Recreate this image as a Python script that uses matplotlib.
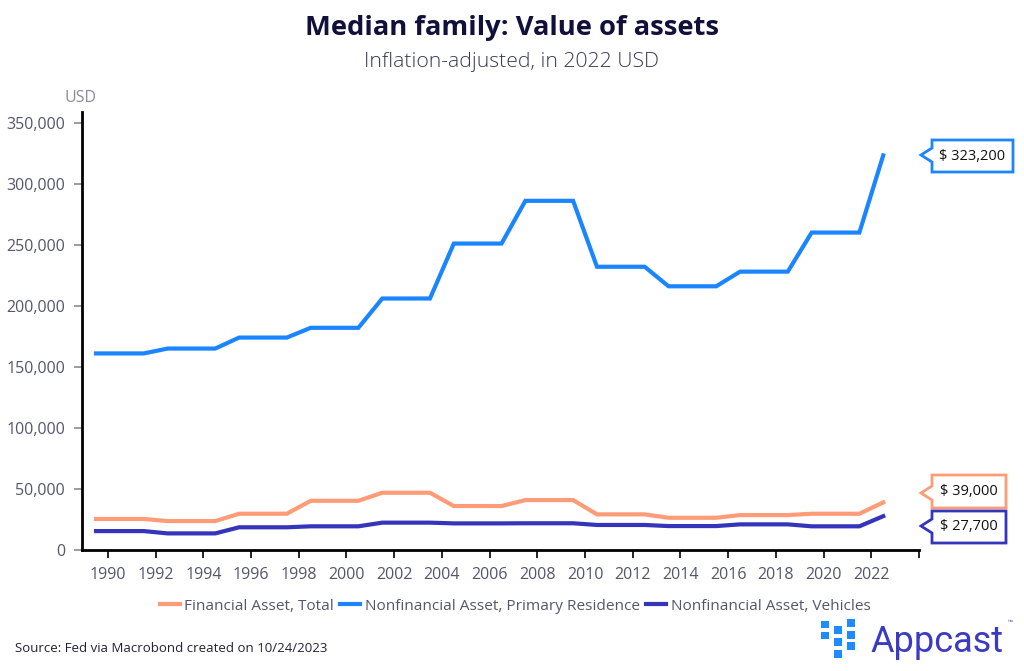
import numpy as np
import matplotlib
matplotlib.use("Agg")
import matplotlib.pyplot as plt
from matplotlib.patches import Polygon, Rectangle

plt.rcParams['font.family'] = ['Open Sans', 'DejaVu Sans']

# ---- data (survey years, values in 2022 USD) ----
survey_years = [1989, 1992, 1995, 1998, 2001, 2004, 2007, 2010, 2013, 2016, 2019, 2022]
financial_total = [25400, 23700, 29700, 40300, 46900, 36000, 40900, 29200, 26400, 28600, 29700, 39000]
primary_residence = [161000, 165000, 174000, 182000, 206000, 251000, 286000, 232000, 216000, 228000, 260000, 323200]
vehicles = [15500, 13600, 18600, 19400, 22400, 21800, 21900, 20500, 19600, 21000, 19400, 27700]

series_names = ["Financial Asset, Total", "Nonfinancial Asset, Primary Residence",
                "Nonfinancial Asset, Vehicles"]
colors = ["#FF9C78", "#1A85FF", "#3535BC"]
labels_end = ["$ 39,000", "$ 323,200", "$ 27,700"]

xticks = list(range(1990, 2023, 2))

# each survey value holds for the survey year and the two following years (last: one year)
def annual(vals):
    yrs, out = [], []
    for i, (y, v) in enumerate(zip(survey_years, vals)):
        span = 3 if i < len(survey_years) - 1 else 1
        for k in range(span):
            yrs.append(y + k + 0.5)
            out.append(v)
    return np.array(yrs), np.array(out)

W, H = 1024, 671
fig = plt.figure(figsize=(W / 100, H / 100), dpi=100)
ax = fig.add_axes([81.7 / W, (H - 550) / H, (919 - 81.7) / W, (550 - 111.7) / H])

for name, vals, c in zip(series_names, [financial_total, primary_residence, vehicles], colors):
    x, y = annual(vals)
    ax.plot(x, y, color=c, lw=3, label=name, solid_joinstyle='miter')

ax.set_xlim(1988.9, 2024)
ax.set_ylim(0, 359000)
ax.set_xticks(xticks + [2024])
ax.set_xticklabels([str(t) for t in xticks] + [""])
ax.set_yticks(range(0, 350001, 50000))
ax.set_yticklabels([f"{v:,}" for v in range(0, 350001, 50000)])

tick_col = "#55556E"
ax.tick_params(axis='x', colors='black', labelcolor=tick_col, labelsize=11.5, length=6, width=1.2, pad=6)
ax.tick_params(axis='y', colors='#8A8A9A', labelcolor=tick_col, labelsize=11.5, length=6, width=1.2, pad=6)
for s in ['top', 'right']:
    ax.spines[s].set_visible(False)
ax.spines['left'].set_linewidth(2)
ax.spines['bottom'].set_linewidth(2)
ax.spines['left'].set_color('black')
ax.spines['bottom'].set_color('black')

# titles
fig.text(512 / W, (H - 28) / H, "Median family: Value of assets", ha='center', va='center',
         fontsize=19.7, fontweight='bold', color='#10103A')
fig.text(512 / W, (H - 62) / H, "Inflation-adjusted, in 2022 USD", ha='center', va='center',
         fontsize=15.2, fontweight='light', color='#3A3A55')
fig.text(80 / W, (H - 98) / H, "USD", ha='center', va='center', fontsize=11.5, color='#8A8A9A')

# legend
leg = fig.legend(loc='center', bbox_to_anchor=(515 / W, (H - 606) / H), ncol=3, frameon=False,
                 fontsize=11.1, handlelength=1.3, handletextpad=0.3, columnspacing=0.4)
for t in leg.get_texts():
    t.set_color(tick_col)

fig.text(15 / W, (H - 648) / H, "Source: Fed via Macrobond created on 10/24/2023", ha='left', va='center',
         fontsize=9.5, color='#222233')

# end-value callouts (pixel coordinates)
def callout(x0, x1, ytop, ybot, tipx, tipy, color, text):
    yt, yb, ty = H - ytop, H - ybot, H - tipy
    pts = [(x0, yt), (x1, yt), (x1, yb), (x0, yb), (x0, ty - 7), (tipx, ty), (x0, ty + 7)]
    fig.patches.append(Polygon(pts, closed=True, transform=None, facecolor='white',
                               edgecolor=color, lw=2, figure=fig, joinstyle='miter'))
    fig.text((x0 + x1) / 2 / W, (yt + yb) / 2 / H, text, ha='center', va='center',
             fontsize=10.5, color='#111111')

callout(932, 1013, 140, 172, 921, 155, colors[1], labels_end[1])
callout(932, 1006, 475, 508, 921, 493, colors[0], labels_end[0])
callout(932, 1006, 511, 543, 921, 526, colors[2], labels_end[2])

# logo
sq = [(825, 624.5), (825, 635.5), (838, 630), (838, 642), (838, 654), (851, 623), (851, 635), (851, 646)]
for (cx, cy) in sq:
    fig.patches.append(Rectangle((cx - 3.7, H - cy - 3.7), 7.4, 7.4, transform=None, facecolor='#1E8CFF',
                                 edgecolor='none', figure=fig))
fig.text(870 / W, (H - 642) / H, "Appcast", ha='left', va='center', fontsize=26,
         family=['Roboto', 'DejaVu Sans'], color='#3A3AC4')
fig.text(1008 / W, (H - 623) / H, "™", ha='left', va='center', fontsize=4.5, color='#3A3AC4')

fig.savefig("out.png", dpi=100)
